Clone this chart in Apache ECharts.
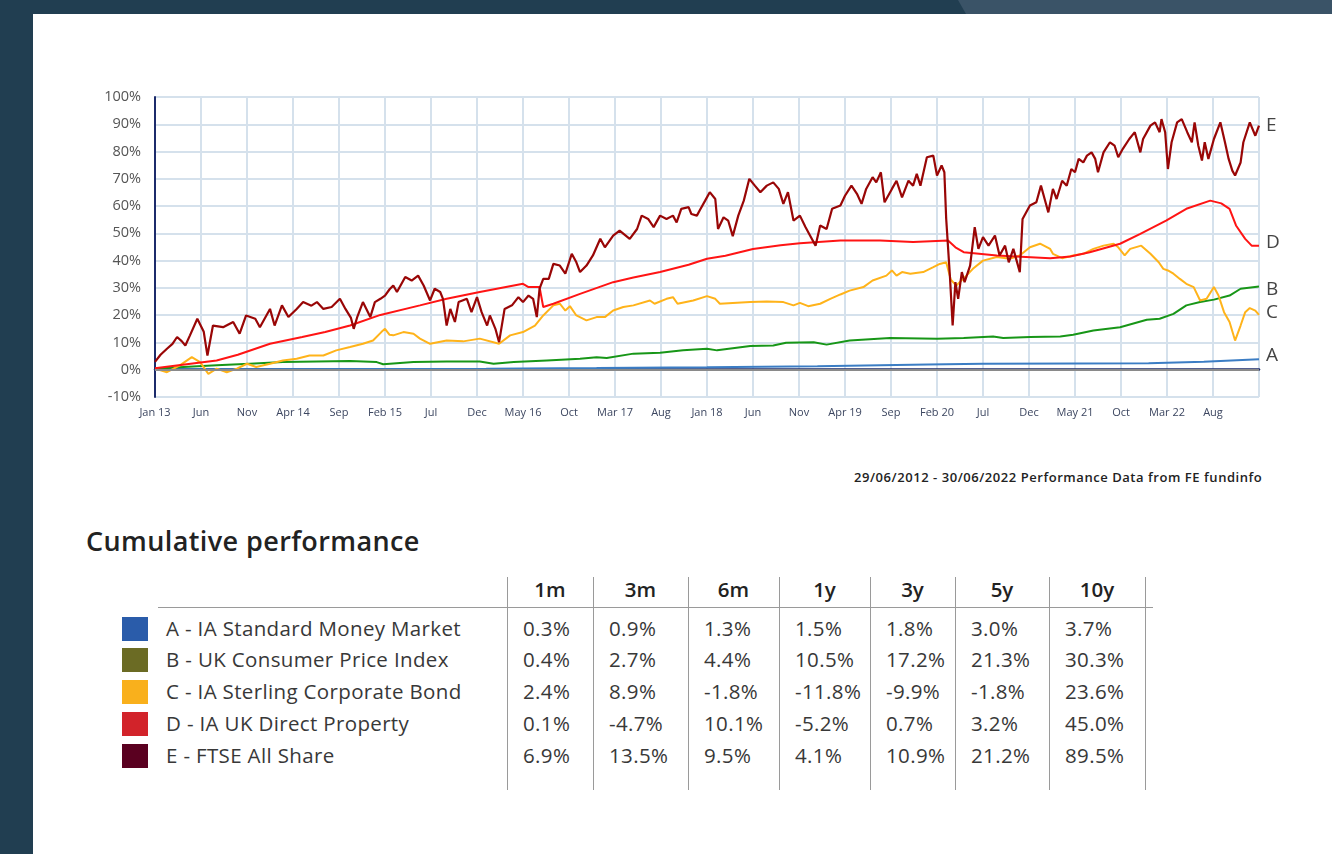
<!DOCTYPE html>
<html>
<head>
<meta charset="utf-8">
<script src="https://cdn.jsdelivr.net/npm/echarts@6/dist/echarts.min.js"></script>
<style>
    body{margin:0;width:1332px;height:854px;background:#213e51;overflow:hidden;font-family:"Open Sans",Lato,sans-serif;color:#2a2a2a;}
    #band{position:absolute;left:958px;top:0;width:374px;height:14px;background:#3a5367;clip-path:polygon(0 0,100% 0,100% 100%,8px 100%);}
    #panel{position:absolute;left:33px;top:14px;right:0;bottom:0;background:#fff;}
    #chart{position:absolute;left:0;top:0;width:1332px;height:440px;}
    #source{position:absolute;left:854px;top:468px;font-size:13px;font-weight:600;color:#222;white-space:nowrap;letter-spacing:0.55px;}
    #title{position:absolute;left:86px;top:522px;font-size:27px;font-weight:600;color:#222;white-space:nowrap;letter-spacing:0.4px;}
    .cell{position:absolute;white-space:nowrap;font-size:20.5px;line-height:24px;color:#383838;letter-spacing:0.35px;}
    .head{font-weight:600;text-align:center;color:#222;letter-spacing:0;}
    .vline{position:absolute;width:1px;background:#9a9a9a;}
    .hline{position:absolute;height:1px;background:#9a9a9a;}
    .swatch{position:absolute;width:26px;height:24px;}
</style>
</head>
<body>
<div id="band"></div>
<div id="panel"></div>
<div id="chart"></div>
<div id="source">29/06/2012 - 30/06/2022 Performance Data from FE fundinfo</div>
<div id="title">Cumulative performance</div>
<div id="table"></div>

<script>
// x = months from the "Jan 13" tick, y = cumulative %
const xTickLabels = ['Jan 13','Jun','Nov','Apr 14','Sep','Feb 15','Jul','Dec','May 16','Oct','Mar 17','Aug',
    'Jan 18','Jun','Nov','Apr 19','Sep','Feb 20','Jul','Dec','May 21','Oct','Mar 22','Aug'];

const seriesA = [[0,0.2],[12,0.2],[24,0.3],[36,0.4],[48,0.6],[60,0.9],[72,1.3],[84,1.9],[90,2.2],[100,2.3],
    [108,2.4],[114,2.9],[120,3.8]];

const seriesB = [[0,0.4],[3.1,1],[6.7,1.6],[10.3,2.2],[13.9,2.8],[17.6,3],[21.2,3.2],[24.1,2.8],[24.8,2],[28.1,2.8],
    [31.7,3],[35.3,3],[36.8,2.2],[39,2.8],[42.6,3.4],[46.2,4],[48,4.6],[49.1,4.3],[52,5.9],[54.9,6.2],[57.4,7.1],
    [60,7.7],[61.1,7.1],[64.7,8.7],[67.2,8.9],[68.6,9.9],[71.6,10.1],[73,9.2],[75.5,10.7],[79.9,11.6],[85,11.4],
    [87.9,11.6],[91.1,12.2],[92.2,11.6],[95.1,12],[98.4,12.2],[99.8,12.8],[102,14.4],[104.9,15.6],[107.8,18.3],
    [109.2,18.7],[110.7,20.5],[112.1,23.6],[113.6,24.8],[115.1,25.7],[116.8,27.2],[118,29.7],[120,30.5]];

const seriesC = [[0,0.4],[1.3,-0.9],[2.7,1.6],[4,4.6],[4.9,2.8],[5.8,-1.5],[6.7,0.4],[7.8,-0.9],[8.9,0.4],[10,2.2],
    [11,1],[12.5,2.2],[13.9,3.4],[15.4,4],[16.8,5.2],[18.3,5.2],[19.7,7.1],[21.2,8.3],[22.6,9.5],[23.7,10.7],
    [24.6,13.8],[25,15],[25.5,12.8],[25.9,12.6],[27,13.8],[28.1,13.2],[28.8,11.4],[29.9,9.5],[31.7,10.7],
    [33.5,10.4],[35.3,11.4],[37.4,9.5],[38.6,12.6],[40,13.8],[41.3,16.2],[42.2,19.9],[43.3,23.6],[44,24.2],
    [44.6,21.7],[45.1,23.3],[45.8,19.9],[46.9,18.1],[48,19.3],[48.9,19.3],[49.8,21.7],[50.9,23],[52,23.6],
    [53.8,25.4],[54.3,24.2],[55.6,26],[56.3,26.6],[56.8,24.2],[58.5,25.4],[60,27],[60.9,26],[61.4,24.2],
    [62.8,24.5],[64.7,24.8],[66.5,25],[68.3,24.8],[69.4,23.6],[70.1,24.5],[71,23.3],[72.3,24.2],[73.4,26],
    [74.5,27.6],[75.5,29],[77,30.3],[78,32.7],[79.5,34.5],[80.1,36.4],[80.6,34.5],[81.2,35.8],[82.1,35.2],
    [83.5,35.8],[84.6,37.6],[85.3,38.8],[86,39.4],[86.5,33],[87.1,30.9],[88.2,34.5],[88.9,37],[90,40],
    [91.5,41.3],[92.9,40.7],[94,41.9],[95.1,44.9],[96.2,46.2],[97.3,44.3],[97.6,42.5],[98.6,40.9],[99.8,41.9],
    [100.9,42.5],[102,44.3],[103.1,45.5],[104.2,46.2],[104.7,44.9],[105.4,41.9],[106,44.3],[107.2,45.5],
    [108.2,42.5],[109.1,39.4],[109.6,37],[110.1,36.4],[110.7,35.2],[111.4,33.3],[112.1,31.5],[112.9,30.3],
    [113.6,25.4],[114.3,26],[115.1,30.3],[115.6,27.2],[116.2,21.1],[116.8,17.5],[117.4,10.7],[118,16.2],
    [118.5,21.1],[119,22.6],[119.6,21.7],[120,20.1]];

const seriesD = [[0,0.5],[3,1.8],[6.7,3.4],[9,5.5],[12.5,9.5],[16,12],[18.5,13.8],[21.2,16.2],[24.5,20.1],
    [28.8,23.6],[31.7,26],[35.3,28.5],[39,30.9],[40,31.5],[40.6,30.3],[41.8,30.3],[42.2,23],[43.3,24.2],
    [46.2,27.8],[49.8,32.1],[52,33.8],[54.9,35.8],[58,38.5],[60,40.7],[62,41.8],[65,44.3],[68,45.6],[70.1,46.4],
    [74.5,47.4],[78.8,47.4],[82.4,46.8],[86.2,47.4],[87,44.9],[87.9,43.1],[91.5,41.9],[97.3,40.9],[99.5,41.5],
    [101.6,43.1],[104.9,46.2],[107.1,49.8],[109.9,54.7],[112.1,59],[114.7,62],[115.9,61],[116.8,59],[117.5,52.9],
    [118.5,48],[119.2,45.5],[120,45.5]];

const seriesE = [[0,2.9],[0.6,5.5],[1.3,7.7],[1.9,9.5],[2.4,12],[2.9,10.5],[3.3,8.9],[3.8,12.6],[4.6,18.7],
    [5.3,13.9],[5.7,5.2],[6.3,16.2],[7.4,15.6],[8.5,17.5],[9.2,13.2],[9.9,19.9],[10.9,18.7],[11.4,15.6],
    [12.5,22.3],[13,16.2],[13.8,23.6],[14.5,19.3],[15.4,22.3],[16.1,24.8],[17,23.5],[17.6,24.8],[18.3,22.3],
    [19.2,23],[20.1,26],[20.7,22.3],[21.3,19],[21.6,15],[22,19.5],[22.6,24.8],[23.4,19.3],[23.9,24.8],[24.5,26],
    [25,27.2],[25.5,29.5],[25.9,30.9],[26.3,28.5],[27.2,34],[27.9,32.7],[28.6,34.5],[29.2,30.9],[29.9,25.4],
    [30.4,29.7],[31,28.5],[31.3,26],[31.7,16.2],[32.1,22.3],[32.6,17.5],[33,24.8],[33.9,26],[34.4,21.1],
    [35,26.6],[35.5,21.1],[36.1,16.2],[36.4,19.9],[37,15],[37.4,10.1],[38,22.3],[38.8,23.6],[39.5,26.6],
    [40,24.8],[40.6,27.2],[41.1,26],[41.5,19.3],[41.8,29.7],[42.2,33.3],[42.8,33.3],[43.3,38.8],[44,38.2],
    [44.6,35.2],[45.3,42.5],[45.8,39.4],[46.2,35.8],[46.9,38.2],[47.6,41.9],[48.4,48],[48.9,44.9],[49.8,49.2],
    [50.5,51],[51.6,48],[52.4,51.6],[52.9,56.5],[53.6,55.3],[54.2,52.3],[54.9,56.5],[55.6,55.3],[56.3,56.5],
    [56.7,54],[57.2,59],[58,59.6],[58.3,57.1],[58.9,56.5],[59.2,58.4],[59.8,62],[60.3,65.1],[60.9,62.6],
    [61.2,51.6],[61.8,55.9],[62.3,54.7],[62.8,49],[63.4,56.5],[64,62],[64.6,70],[65.2,67.5],[65.8,65.1],
    [66.5,67.5],[67.2,68.7],[67.8,66.3],[68.3,60.8],[68.8,65.1],[69.4,54.7],[70.1,56.5],[70.7,52.3],[71.3,48.6],
    [71.8,45.5],[72.3,52.9],[73,51.6],[73.6,59],[74.5,60.2],[75,63.8],[75.7,67.5],[76.3,64.5],[76.8,60.8],
    [77.3,66.3],[78,70.6],[78.4,68.7],[78.9,72.4],[79.3,61.4],[80.1,66.3],[80.6,69.3],[81.2,63.2],[81.9,69.3],
    [82.4,67.5],[82.8,71.8],[83.2,67.5],[83.9,77.9],[84.6,78.5],[85,71.2],[85.5,74.9],[85.8,72.4],[86,55.3],
    [86.4,34.5],[86.7,16.2],[87,32.1],[87.3,26],[87.7,35.8],[88,32.1],[88.6,38.2],[89.1,52.3],[89.5,44.3],
    [90,48.6],[90.6,45.5],[91.3,49.2],[91.8,41.9],[92.4,45.5],[92.8,39.4],[93.3,44.3],[94,35.8],[94.3,55.3],
    [95.1,60.2],[95.8,61.4],[96.3,67.5],[96.7,62.6],[97.1,57.7],[97.6,66.3],[98,62.6],[98.6,69.3],[99.1,67.5],
    [99.6,73.6],[100,72.4],[100.4,77.3],[100.9,76],[101.3,78.5],[101.8,79.7],[102.2,77.3],[102.5,72.4],
    [103.1,79.7],[103.8,83.4],[104.3,82.2],[104.7,77.9],[105.2,81],[105.9,84.6],[106.5,87.1],[107.1,79.7],
    [107.4,84.6],[108.2,89.5],[108.7,90.7],[109.2,87.1],[109.4,91.9],[109.8,87.1],[110.1,73.6],[110.5,83.4],
    [111.1,90.7],[111.6,91.9],[112.2,87.1],[112.7,83.4],[113,90.7],[113.4,82.2],[113.8,76.7],[114.1,83.4],
    [114.5,77.3],[115.1,84.6],[115.8,90.7],[116.3,83.4],[116.7,77.3],[117.1,73],[117.4,71.2],[118,76],
    [118.3,83.4],[119,90.7],[119.6,85.8],[120,89.5]];

// table
const periods = ['1m','3m','6m','1y','3y','5y','10y'];
const names = ['A - IA Standard Money Market','B - UK Consumer Price Index','C - IA Sterling Corporate Bond',
    'D - IA UK Direct Property','E - FTSE All Share'];
const swatchColors = ['#2a5caa','#6b6b24','#f9b01c','#d2232a','#5a0020'];
const perfA = ['0.3%','0.9%','1.3%','1.5%','1.8%','3.0%','3.7%'];
const perfB = ['0.4%','2.7%','4.4%','10.5%','17.2%','21.3%','30.3%'];
const perfC = ['2.4%','8.9%','-1.8%','-11.8%','-9.9%','-1.8%','23.6%'];
const perfD = ['0.1%','-4.7%','10.1%','-5.2%','0.7%','3.2%','45.0%'];
const perfE = ['6.9%','13.5%','9.5%','4.1%','10.9%','21.2%','89.5%'];

const myChart = echarts.init(document.getElementById('chart'));

function lineSeries(name, data, color, width, offset) {
    return {
        name: name,
        type: 'line',
        data: data,
        showSymbol: false,
        animation: false,
        lineStyle: {color: color, width: width},
        itemStyle: {color: color},
        endLabel: {
            show: true,
            formatter: name,
            color: '#444',
            fontSize: 19,
            fontFamily: 'Open Sans',
            distance: 7,
            offset: offset
        }
    };
}

let seriesArr = [
    lineSeries('A', seriesA, '#3b7dc4', 2, [0, -4]),
    lineSeries('B', seriesB, '#179617', 2, [0, 3]),
    lineSeries('C', seriesC, '#ffb31a', 2, [0, -2]),
    lineSeries('D', seriesD, '#ff1414', 2, [0, -3]),
    lineSeries('E', seriesE, '#990606', 2.2, [0, 0])
];
seriesArr[0].markLine = {
    silent: true,
    symbol: 'none',
    animation: false,
    label: {show: false},
    lineStyle: {color: '#8a8a8a', width: 2, type: 'solid'},
    data: [{yAxis: 0}]
};

const option = {
    grid: {left: 155, top: 97, width: 1104, height: 300},
    xAxis: {
        type: 'value',
        min: 0,
        max: 120,
        interval: 5,
        axisLine: {lineStyle: {color: '#1c2b6b', width: 2.5}},
        axisTick: {show: false},
        axisLabel: {
            color: '#3c4660',
            fontSize: 11,
            fontFamily: 'Open Sans',
            margin: 10,
            formatter: function (v) { return xTickLabels[Math.round(v / 5)] || ''; }
        },
        splitLine: {show: true, lineStyle: {color: '#d5e1ec', width: 2}}
    },
    yAxis: {
        type: 'value',
        min: -10,
        max: 100,
        interval: 10,
        axisLine: {show: true, lineStyle: {color: '#1c2b6b', width: 2}},
        axisTick: {show: false},
        axisLabel: {color: '#555', fontSize: 14.5, fontFamily: 'Open Sans', margin: 14, formatter: '{value}%'},
        splitLine: {lineStyle: {color: '#d5e1ec', width: 2}}
    },
    series: seriesArr
};
myChart.setOption(option);

// cumulative performance table
(function () {
    const table = document.getElementById('table');
    const colEdges = [507, 593, 688, 779, 870, 955, 1049, 1145];
    const rowY = [628, 659, 691, 723, 755];
    const rows = [perfA, perfB, perfC, perfD, perfE];
    let html = '';
    html += '<div class="hline" style="left:158px;top:607px;width:995px;"></div>';
    colEdges.forEach(x => {
        html += '<div class="vline" style="left:' + x + 'px;top:577px;height:213px;"></div>';
    });
    periods.forEach((p, i) => {
        const l = colEdges[i], w = colEdges[i + 1] - colEdges[i];
        html += '<div class="cell head" style="left:' + l + 'px;width:' + w + 'px;top:577px;">' + p + '</div>';
    });
    names.forEach((n, r) => {
        const top = rowY[r] - 12;
        html += '<div class="swatch" style="left:122px;top:' + (top + 1) + 'px;background:' + swatchColors[r] + ';"></div>';
        html += '<div class="cell" style="left:166px;top:' + top + 'px;">' + n + '</div>';
        rows[r].forEach((v, i) => {
            html += '<div class="cell" style="left:' + (colEdges[i] + 16) + 'px;top:' + top + 'px;">' + v + '</div>';
        });
    });
    table.innerHTML = html;
})();
</script>
</body>
</html>
